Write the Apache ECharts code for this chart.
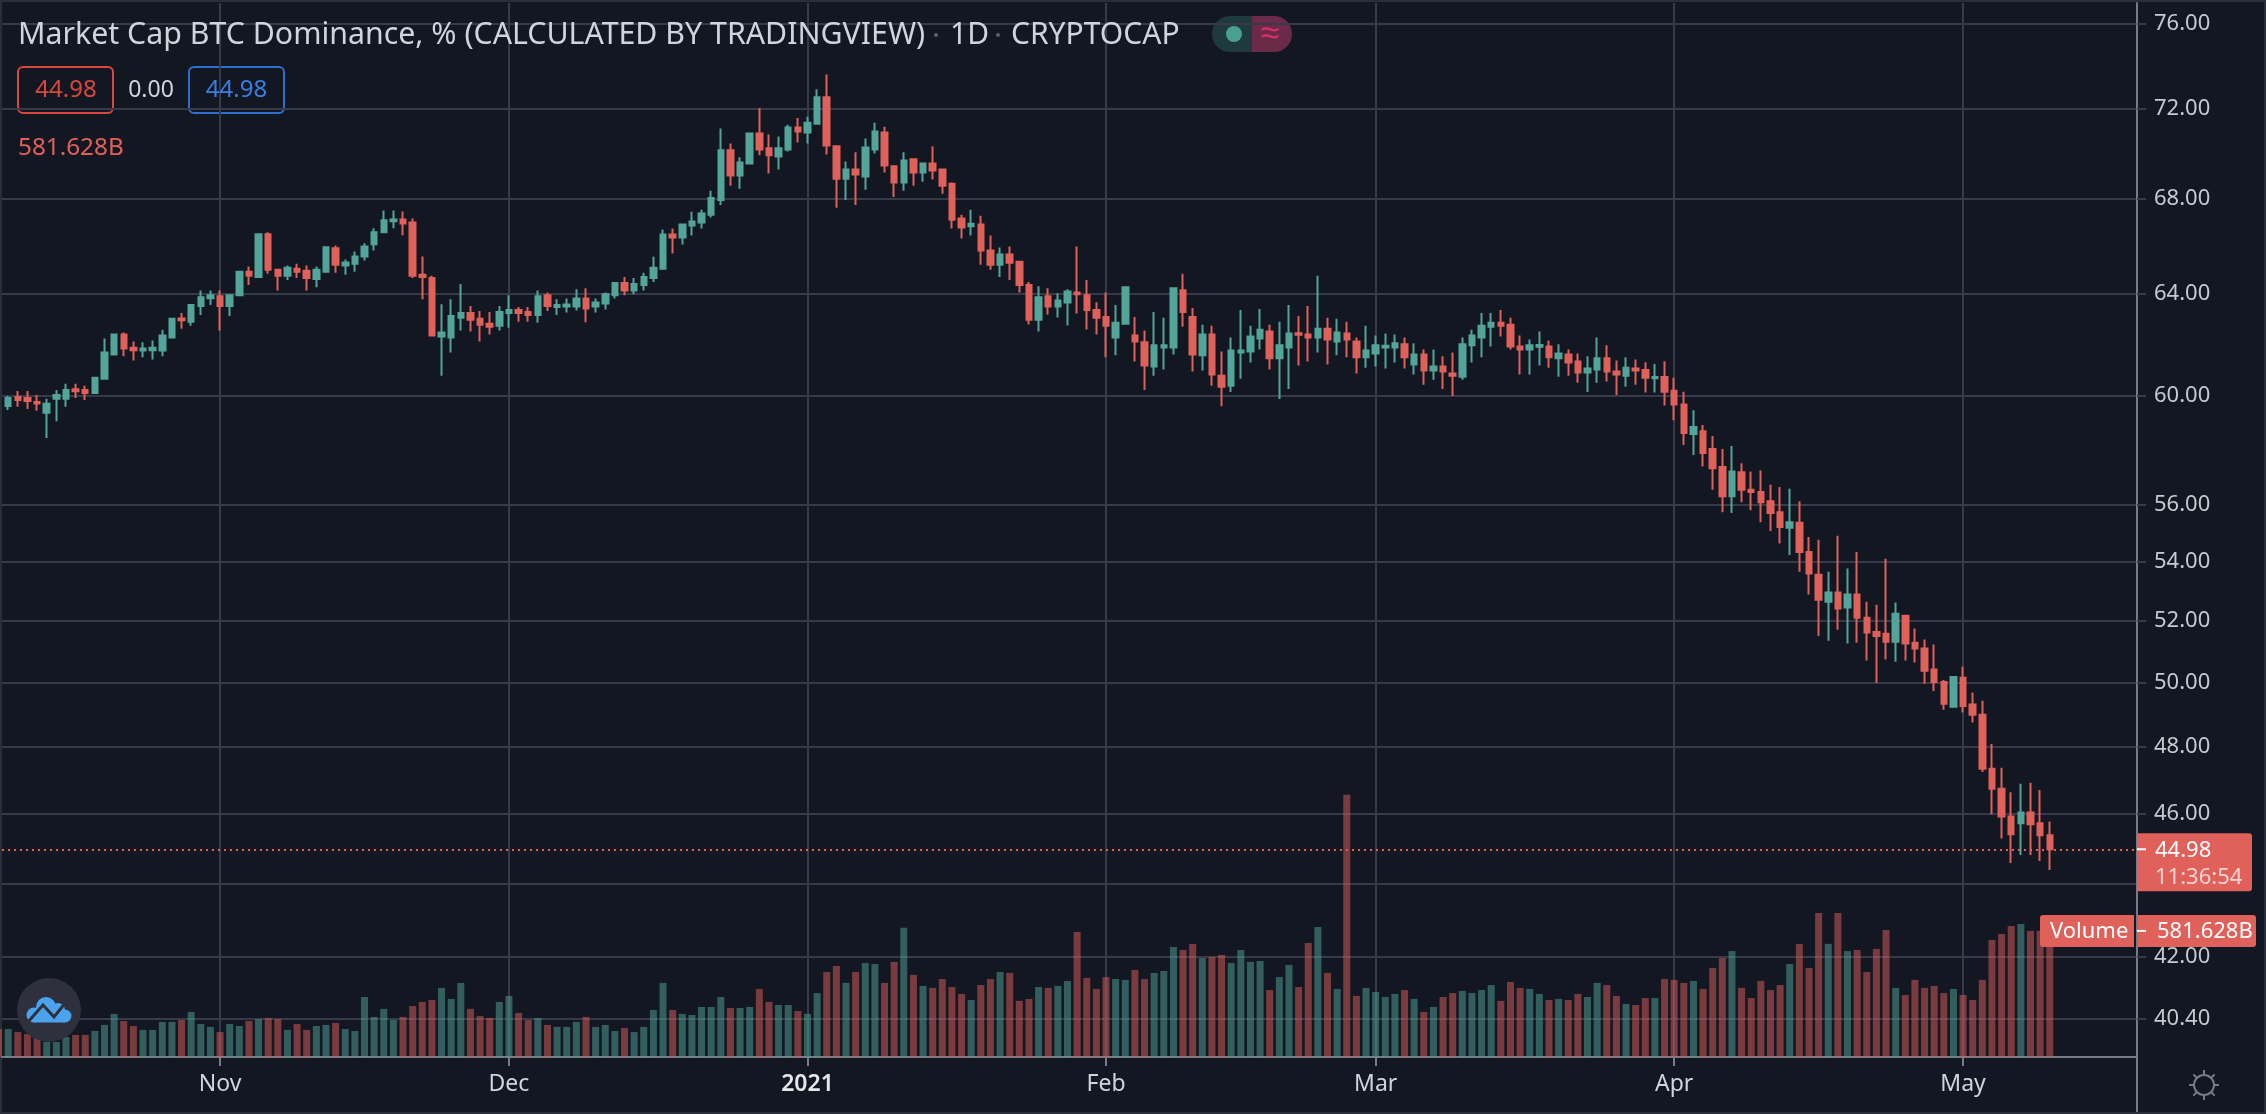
<!DOCTYPE html>
<html>
<head>
<meta charset="utf-8">
<title>BTC Dominance</title>
<script src="https://cdn.jsdelivr.net/npm/echarts@6/dist/echarts.min.js"></script>
<style>
  html, body { margin: 0; padding: 0; background: #131722; }
  #chart { width: 2266px; height: 1114px; }
</style>
</head>
<body>
<div id="chart"></div>
<script>
const DAY = 86400000;
const firstDay = Date.UTC(2020, 9, 9); // daily candles, 2020-10-09 .. 2021-05-10

const opens = [60.07,
  59.61,59.95,59.91,59.76,59.35,59.88,59.88,60.25,60.22,60.10,
  60.65,61.59,62.38,61.86,61.75,61.76,61.75,62.26,63.02,62.89,
  63.52,63.83,63.91,63.52,63.95,64.92,64.70,66.48,65.00,64.75,
  65.04,64.96,64.62,64.92,65.89,65.17,65.25,65.55,66.06,66.56,
  67.03,67.11,66.98,64.79,64.66,62.30,62.26,63.05,63.24,63.01,
  62.81,62.73,63.24,63.36,63.28,63.16,63.95,63.48,63.50,63.50,
  63.82,63.50,63.62,63.95,64.45,64.15,64.37,64.66,65.04,66.47,
  66.34,66.85,66.98,67.31,67.94,70.12,69.01,69.54,70.87,70.21,
  69.85,70.16,71.14,70.92,71.32,72.53,70.30,68.87,69.27,68.96,
  70.16,70.92,69.41,68.70,69.72,69.14,69.54,69.27,68.65,67.15,
  66.82,66.89,65.80,65.21,65.63,65.33,64.37,62.97,63.91,63.50,
  63.66,64.07,63.95,63.36,63.08,62.26,62.81,62.34,62.07,61.12,
  61.87,61.87,64.16,63.08,61.56,62.38,60.77,60.38,61.67,61.71,
  62.22,62.50,61.44,61.87,62.43,62.38,62.26,62.61,62.10,62.42,
  62.10,61.48,61.63,61.87,61.87,61.99,61.20,61.59,60.97,61.12,
  60.85,60.73,61.95,62.26,62.69,62.85,62.77,61.91,61.79,61.90,
  61.91,61.44,61.59,61.32,60.89,61.01,61.44,60.93,60.77,61.05,
  60.99,60.67,60.72,60.19,59.67,58.56,58.66,58.00,57.34,56.29,
  57.15,56.52,56.44,56.11,55.72,55.17,55.35,54.33,53.55,52.64,
  52.95,52.45,52.88,52.11,51.64,51.58,51.32,52.17,51.29,51.10,
  50.42,50.02,49.24,50.16,49.31,48.99,47.34,46.74,45.93,45.73,
  46.04,45.73,45.38];
const closes = [59.61,
  59.91,59.84,59.80,59.70,59.69,60.03,60.22,60.17,60.10,60.69,
  61.67,62.38,61.83,61.76,61.83,61.86,62.34,63.01,62.95,63.56,
  63.87,63.95,63.52,63.95,64.92,64.75,66.48,65.00,64.75,65.08,
  64.92,64.66,65.00,65.93,65.21,65.30,65.55,65.97,66.56,67.07,
  67.11,66.94,64.75,64.70,62.34,62.46,63.12,63.24,62.97,62.77,
  62.69,63.28,63.36,63.24,63.16,63.91,63.52,63.56,63.58,63.82,
  63.42,63.66,63.99,64.45,64.15,64.41,64.70,65.08,66.47,66.34,
  66.89,67.02,67.36,68.03,70.12,69.01,69.58,70.87,70.16,69.90,
  70.21,71.14,70.96,71.36,72.53,70.34,68.87,69.27,69.05,70.25,
  70.96,69.45,68.70,69.67,69.14,69.54,69.23,68.56,67.10,66.77,
  66.93,65.80,65.21,65.63,65.29,64.37,62.97,63.87,63.50,63.74,
  64.11,63.99,63.36,63.05,62.73,62.85,64.28,62.10,61.16,61.95,
  61.95,64.24,63.28,61.59,62.38,60.81,60.34,61.75,61.75,62.30,
  62.57,61.44,61.95,62.42,62.37,62.26,62.61,62.18,62.46,62.18,
  61.48,61.75,61.95,61.93,62.03,61.48,61.59,60.97,61.12,60.93,
  60.77,61.99,62.34,62.73,62.85,62.73,61.91,61.79,61.95,61.96,
  61.48,61.63,61.28,60.89,61.05,61.44,60.93,60.81,61.08,60.97,
  60.69,60.72,60.15,59.67,58.60,58.82,57.86,57.30,56.29,57.18,
  56.52,56.44,56.07,55.69,55.20,55.37,54.33,53.59,52.71,52.95,
  52.41,52.88,52.11,51.62,51.51,51.32,52.24,51.26,51.10,50.38,
  50.02,49.34,50.18,49.27,48.99,47.34,46.74,45.93,45.41,46.04,
  45.70,45.38,44.98];
const highs = [60.07,
  59.99,60.18,60.18,60.03,59.88,60.22,60.46,60.46,60.38,60.69,
  62.22,62.38,62.46,62.10,62.07,62.14,62.57,63.01,63.24,63.59,
  64.15,64.15,64.15,63.99,64.92,65.13,66.48,66.56,65.04,65.17,
  65.25,65.17,65.13,65.93,66.01,65.42,65.76,66.10,66.73,67.49,
  67.49,67.45,67.15,65.55,64.75,63.59,63.79,64.41,63.52,63.32,
  63.28,63.52,63.95,63.48,63.48,64.15,64.07,63.79,63.82,64.20,
  64.24,63.82,64.07,64.49,64.70,64.66,64.87,65.54,66.68,66.72,
  66.89,67.44,67.52,68.34,71.10,70.43,69.81,70.87,72.03,70.83,
  70.74,71.27,71.58,71.63,72.90,73.58,70.30,69.63,70.03,70.65,
  71.36,71.18,69.41,70.03,69.72,69.54,70.30,69.32,68.70,67.31,
  67.52,67.27,66.43,65.92,65.97,65.33,64.49,64.32,64.24,64.03,
  64.20,65.97,64.58,63.67,64.07,63.56,64.28,63.08,62.54,63.28,
  63.05,64.24,64.83,63.44,62.77,62.73,61.71,62.26,63.36,62.73,
  63.40,62.77,62.89,63.56,63.12,63.52,64.75,63.05,63.01,62.89,
  62.26,62.73,62.34,62.42,62.38,62.26,62.03,61.79,61.79,61.52,
  61.67,62.26,62.57,63.24,63.24,63.36,63.05,62.34,62.18,62.50,
  62.14,61.99,61.79,61.63,61.52,62.26,61.95,61.36,61.48,61.40,
  61.29,61.22,61.33,60.69,60.15,59.45,58.89,58.48,58.00,58.11,
  57.48,57.18,57.22,56.70,56.62,56.56,56.11,54.85,54.75,53.65,
  54.89,53.76,54.33,52.64,52.54,54.10,52.61,52.17,51.75,51.39,
  51.23,50.09,50.18,50.51,49.69,49.43,48.09,47.37,46.64,46.89,
  46.92,46.71,45.78];
const lows = [59.61,
  59.46,59.58,59.50,59.43,58.41,59.03,59.58,59.91,59.84,60.10,
  60.61,61.59,61.52,61.36,61.48,61.40,61.52,62.22,62.61,62.73,
  63.16,63.56,62.54,63.12,63.95,64.37,64.70,64.83,64.15,64.58,
  64.66,64.15,64.28,64.92,64.87,64.79,64.92,65.38,65.80,66.56,
  66.73,66.44,64.66,63.79,62.34,60.77,61.67,62.54,62.50,62.10,
  62.38,62.54,62.65,62.89,62.89,62.85,63.32,63.16,63.26,63.34,
  62.87,63.26,63.38,63.82,63.95,63.99,64.15,64.49,65.00,65.67,
  66.05,66.43,66.72,67.19,67.73,68.56,68.43,69.54,69.90,69.10,
  69.27,70.07,70.47,70.43,71.32,69.94,67.61,67.94,67.73,68.39,
  69.98,69.14,68.07,68.34,68.56,68.74,68.83,68.21,66.72,66.30,
  66.43,65.21,65.00,64.70,64.58,64.07,62.78,62.50,63.18,63.06,
  62.74,63.22,62.58,62.38,61.48,61.56,62.81,61.32,60.22,60.77,
  61.01,61.59,62.69,60.93,60.97,60.38,59.60,60.14,60.65,61.28,
  61.79,61.01,59.87,60.26,61.16,61.32,61.67,61.20,61.56,61.48,
  60.85,61.08,61.12,61.05,61.28,61.05,60.81,60.42,60.61,60.26,
  59.99,60.61,61.28,61.48,61.91,62.30,61.79,60.81,60.81,61.16,
  61.08,60.73,60.77,60.50,60.14,60.50,60.54,60.03,60.34,60.42,
  60.12,60.12,59.63,59.07,58.15,57.78,57.36,56.52,55.72,55.69,
  56.07,55.79,55.37,55.06,54.62,54.23,53.65,52.88,51.51,51.35,
  51.71,51.26,51.29,50.71,50.00,50.74,50.67,50.71,50.65,49.97,
  49.74,49.15,49.24,49.06,48.75,47.24,45.99,45.29,44.59,44.82,
  44.82,44.65,44.39];
// volume, in billions
const volumes = [129,
  129,115,106,97,69,69,92,102,102,120,
  148,199,166,143,125,125,162,162,171,208,
  152,139,115,152,143,166,175,180,175,125,
  152,125,143,148,157,129,120,277,185,222,
  171,185,235,254,263,319,268,342,222,189,
  180,254,282,203,171,180,148,139,139,162,
  185,139,148,120,134,115,139,217,342,217,
  199,194,231,231,277,226,226,231,314,254,
  240,240,212,199,295,392,420,342,392,434,
  429,342,439,596,379,328,319,360,323,291,
  263,332,360,392,388,259,268,323,319,328,
  351,577,365,314,369,360,356,402,360,388,
  397,508,494,522,457,462,471,434,494,439,
  443,309,369,425,323,526,600,388,314,1210,
  282,319,300,277,291,309,268,208,231,277,
  295,305,295,309,332,259,346,319,314,291,
  263,268,263,291,277,342,332,282,245,240,
  272,272,360,356,342,351,314,411,457,489,
  319,272,351,309,332,429,522,411,665,522,
  665,489,494,392,499,586,319,286,356,319,
  328,295,314,286,263,356,540,568,605,614,
  582,582,582];

const priceTicks = [76, 72, 68, 64, 60, 56, 54, 52, 50, 48, 46, 44, 42, 40.4];
const monthTicks = [Date.UTC(2020,10,1), Date.UTC(2020,11,1), Date.UTC(2021,0,1), Date.UTC(2021,1,1), Date.UTC(2021,2,1), Date.UTC(2021,3,1), Date.UTC(2021,4,1)];
const monthLabels = ['Nov', 'Dec', '2021', 'Feb', 'Mar', 'Apr', 'May'];
const lastPrice = 44.98;
const lastVolume = '581.628B';

const UP = '#53a59a', DOWN = '#e0605a';
const FONT = '"Noto Sans", sans-serif';
const days = closes.map((_, i) => firstDay + i * DAY);
const isUp = i => closes[i] >= opens[i];

const chart = echarts.init(document.getElementById('chart'));

function gearIcon(cx, cy) {
  const style = { stroke: '#787b86', lineWidth: 2, fill: 'none' };
  const parts = [{ type: 'circle', shape: { cx, cy, r: 10 }, style }];
  for (let k = 0; k < 8; k++) {
    const a = k * Math.PI / 4, c = Math.cos(a), s = Math.sin(a);
    parts.push({ type: 'line', shape: { x1: cx + c * 10, y1: cy + s * 10, x2: cx + c * 15, y2: cy + s * 15 }, style });
  }
  return parts;
}

function text(x, y, t, color, size, align) {
  return { type: 'text', x, y, z: 20, style: { text: t, fill: color, font: `${size}px ${FONT}`, textAlign: align || 'left', textVerticalAlign: 'middle' } };
}

function staticGraphics() {
  const cloud = { fill: '#4ba3ee' };
  return [
    { type: 'rect', shape: { x: 1, y: 1, width: 2264, height: 1112 }, z: 0, silent: true, style: { fill: 'none', stroke: '#2a2e39', lineWidth: 2 } },
    { type: 'line', shape: { x1: 2137, y1: 1057, x2: 2137, y2: 1112 }, style: { stroke: '#787b86', lineWidth: 2 } },
    text(18, 35, 'Market Cap BTC Dominance, % (CALCULATED BY TRADINGVIEW)', '#d1d4dc', 30.3),
    { type: 'circle', shape: { cx: 936, cy: 35, r: 2 }, style: { fill: '#5d606b' } },
    text(950, 35, '1D', '#d1d4dc', 30),
    { type: 'circle', shape: { cx: 998, cy: 35, r: 2 }, style: { fill: '#5d606b' } },
    text(1011, 35, 'CRYPTOCAP', '#d1d4dc', 30),
    // indicator pill
    { type: 'rect', shape: { x: 1212, y: 16, width: 40, height: 36, r: [18, 0, 0, 18] }, style: { fill: '#1f3a3f' } },
    { type: 'rect', shape: { x: 1252, y: 16, width: 40, height: 36, r: [0, 18, 18, 0] }, style: { fill: '#6a2a48' } },
    { type: 'circle', shape: { cx: 1234, cy: 34, r: 8 }, style: { fill: '#4a9f90' } },
    text(1270, 34, '≈', '#dc3068', 34, 'center'),
    // OHLC boxes
    { type: 'rect', shape: { x: 18, y: 67, width: 95, height: 46, r: 5 }, style: { fill: '#131722', stroke: '#d9483f', lineWidth: 2 } },
    text(66, 90, String(lastPrice), '#d9483f', 24, 'center'),
    text(151, 90, '0.00', '#d1d4dc', 23, 'center'),
    { type: 'rect', shape: { x: 189, y: 67, width: 95, height: 46, r: 5 }, style: { fill: '#131722', stroke: '#2f6fd0', lineWidth: 2 } },
    text(236.5, 90, String(lastPrice), '#3a7fe0', 24, 'center'),
    text(18, 148, lastVolume, DOWN, 24.3),
    // logo
    { type: 'circle', shape: { cx: 49, cy: 1010, r: 32 }, z: 15, style: { fill: '#2e303d' } },
    { type: 'circle', z: 16, shape: { cx: 34, cy: 1015, r: 7.5 }, style: cloud },
    { type: 'circle', z: 16, shape: { cx: 46, cy: 1007, r: 10 }, style: cloud },
    { type: 'circle', z: 16, shape: { cx: 58, cy: 1010, r: 7 }, style: cloud },
    { type: 'circle', z: 16, shape: { cx: 65, cy: 1016, r: 6.5 }, style: cloud },
    { type: 'rect', z: 16, shape: { x: 34, y: 1011, width: 31, height: 11.5 }, style: cloud },
    { type: 'polyline', z: 17, shape: { points: [[28, 1022], [43, 1005], [54, 1017], [66, 1002]] }, style: { stroke: '#2e303d', lineWidth: 3, fill: 'none' } },
    ...gearIcon(2204, 1085)
  ];
}

chart.setOption({
  animation: false,
  backgroundColor: '#131722',
  textStyle: { fontFamily: FONT },
  grid: { left: 2, top: 3, width: 2135, height: 1054, containLabel: false },
  xAxis: {
    type: 'value',
    min: Date.UTC(2020, 9, 10) - 0.644 * DAY,
    max: Date.UTC(2020, 9, 10) + 221.06 * DAY,
    axisLine: { lineStyle: { color: '#787b86', width: 2 } },
    axisTick: { length: 9, customValues: monthTicks, lineStyle: { color: '#787b86', width: 2 } },
    axisLabel: {
      customValues: monthTicks, color: '#d1d4dc', fontSize: 23, margin: 16, fontFamily: FONT,
      formatter: v => {
        const s = monthLabels[monthTicks.indexOf(+v)];
        return s === '2021' ? `{b|${s}}` : s;
      },
      rich: { b: { fontWeight: 600, fontSize: 23, color: '#e4e6eb', fontFamily: FONT } }
    },
    splitLine: { show: true, lineStyle: { color: '#363a49', width: 2 } }
  },
  yAxis: [{
    type: 'log',
    position: 'right',
    min: 39.42,
    max: 77.0,
    axisLine: { show: true, lineStyle: { color: '#787b86', width: 2 } },
    axisTick: { show: true, length: 9, customValues: priceTicks, lineStyle: { color: '#363a49', width: 2 } },
    axisLabel: {
      customValues: priceTicks, color: '#c6c9d1', fontSize: 22, margin: 17, padding: [3, 0, 0, 0], fontFamily: FONT,
      formatter: v => (+v).toFixed(2)
    },
    splitLine: { show: true, lineStyle: { color: '#363a49', width: 2 } }
  }, {
    type: 'value',
    show: false,
    min: 0,
    max: 4864,
    splitLine: { show: false }
  }],
  series: [{
    type: 'bar',
    yAxisIndex: 1,
    barWidth: 7,
    z: 2,
    data: days.map((d, i) => ({
      value: [d, volumes[i]],
      itemStyle: { color: isUp(i) ? 'rgba(83,165,154,0.5)' : 'rgba(224,96,90,0.5)' }
    }))
  }, {
    type: 'candlestick',
    yAxisIndex: 0,
    barWidth: 6,
    z: 3,
    itemStyle: { color: UP, color0: DOWN, borderColor: UP, borderColor0: DOWN, borderColorDoji: UP, borderWidth: 2 },
    data: days.map((d, i) => [d, opens[i], closes[i], lows[i], highs[i]]),
    markLine: {
      silent: true, symbol: 'none', animation: false,
      label: { show: false },
      lineStyle: { color: DOWN, type: [2, 4], width: 2 },
      data: [{ yAxis: lastPrice }]
    }
  }],
  graphic: staticGraphics()
});

// last price and volume tags sit where the axes put those values
const priceY = chart.convertToPixel({ yAxisIndex: 0 }, lastPrice);
const volY = chart.convertToPixel({ yAxisIndex: 1 }, volumes[volumes.length - 1]);
chart.setOption({
  graphic: staticGraphics().concat([
    { type: 'rect', z: 18, shape: { x: 2137, y: priceY - 16, width: 115, height: 58, r: [0, 3, 3, 0] }, style: { fill: DOWN } },
    { type: 'line', z: 19, shape: { x1: 2137, y1: priceY, x2: 2146, y2: priceY }, style: { stroke: '#fff', lineWidth: 2 } },
    text(2155, priceY + 1, String(lastPrice), '#fff', 22),
    text(2155, priceY + 28, '11:36:54', 'rgba(255,255,255,0.72)', 22),
    { type: 'rect', z: 18, shape: { x: 2040, y: volY - 16, width: 94, height: 32, r: [3, 0, 0, 3] }, style: { fill: DOWN } },
    { type: 'rect', z: 18, shape: { x: 2138, y: volY - 16, width: 118, height: 32, r: [0, 3, 3, 0] }, style: { fill: DOWN } },
    { type: 'line', z: 19, shape: { x1: 2137, y1: volY, x2: 2146, y2: volY }, style: { stroke: '#fff', lineWidth: 2 } },
    text(2050, volY + 1, 'Volume', '#fff', 22),
    text(2157, volY + 1, lastVolume, '#fff', 22)
  ])
});
</script>
</body>
</html>
